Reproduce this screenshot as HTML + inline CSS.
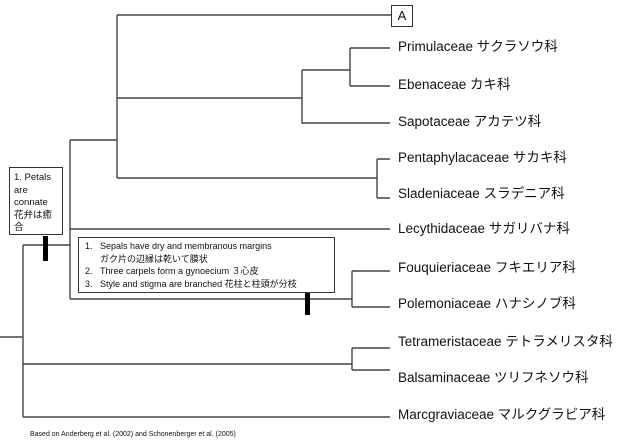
<!DOCTYPE html>
<html><head><meta charset="utf-8"><style>
body{margin:0;width:630px;height:440px;background:#fff;position:relative;overflow:hidden;font-family:"Liberation Sans","Noto Sans CJK JP",sans-serif;color:#111}
.l{position:absolute;left:398px;font-size:13.5px;line-height:16px;white-space:nowrap;transform:translateY(-50%)}
svg{position:absolute;left:0;top:0}
.box{position:absolute;border:1px solid #333;background:#fff;font-size:9.5px;line-height:12.5px}
</style></head><body>
<svg width="630" height="440" stroke="#444" stroke-width="1.4" fill="none">
<path d="M117 15H391M117 15V178M117 98H302M302 70V123H390M302 70H350M350 48V86M350 48H390M350 86H390"/>
<path d="M117 178H377M377 159V198M377 159H390M377 198H390"/>
<path d="M70 140H117M70 140V299M70 229H390M70 299H352M352 271V307M352 271H390M352 307H390"/>
<path d="M23 245H70M23 245V417M0 337H23M23 364H352M352 348V370M352 348H390M352 370H390M23 417H390"/>
<rect x="43" y="236" width="5" height="25" fill="#000" stroke="none"/>
<rect x="305" y="293" width="5" height="22" fill="#000" stroke="none"/>
</svg>
<div class="box" style="left:391px;top:5px;width:20px;height:20px;font-size:13px;line-height:20px;text-align:center">A</div>
<div class="box" style="left:9px;top:167px;width:54px;height:68px;padding:4px 0 0 4px;box-sizing:border-box">1. Petals<br>are<br>connate<br>花弁は癒<br>合</div>
<div class="box" style="left:78px;top:237px;width:257px;height:56px;box-sizing:border-box;padding:2px 0 0 6px;font-size:9px;line-height:12.5px">
<div>1.&nbsp;&nbsp;&nbsp;Sepals have dry and membranous margins</div>
<div style="padding-left:15px">ガク片の辺縁は乾いて膜状</div>
<div>2.&nbsp;&nbsp;&nbsp;Three carpels form a gynoecium ３心皮</div>
<div>3.&nbsp;&nbsp;&nbsp;Style and stigma are branched 花柱と柱頭が分枝</div>
</div>
<div class="l" style="top:47px">Primulaceae サクラソウ科</div>
<div class="l" style="top:85px">Ebenaceae カキ科</div>
<div class="l" style="top:122px">Sapotaceae アカテツ科</div>
<div class="l" style="top:158px">Pentaphylacaceae サカキ科</div>
<div class="l" style="top:194px">Sladeniaceae スラデニア科</div>
<div class="l" style="top:229px">Lecythidaceae サガリバナ科</div>
<div class="l" style="top:268px">Fouquieriaceae フキエリア科</div>
<div class="l" style="top:304px">Polemoniaceae ハナシノブ科</div>
<div class="l" style="top:342px">Tetrameristaceae テトラメリスタ科</div>
<div class="l" style="top:378px">Balsaminaceae ツリフネソウ科</div>
<div class="l" style="top:415px">Marcgraviaceae マルクグラビア科</div>
<div style="position:absolute;left:30px;top:431px;font-size:7px;white-space:nowrap">Based on Anderberg et al. (2002) and Schonenberger et al. (2005)</div>
</body></html>
